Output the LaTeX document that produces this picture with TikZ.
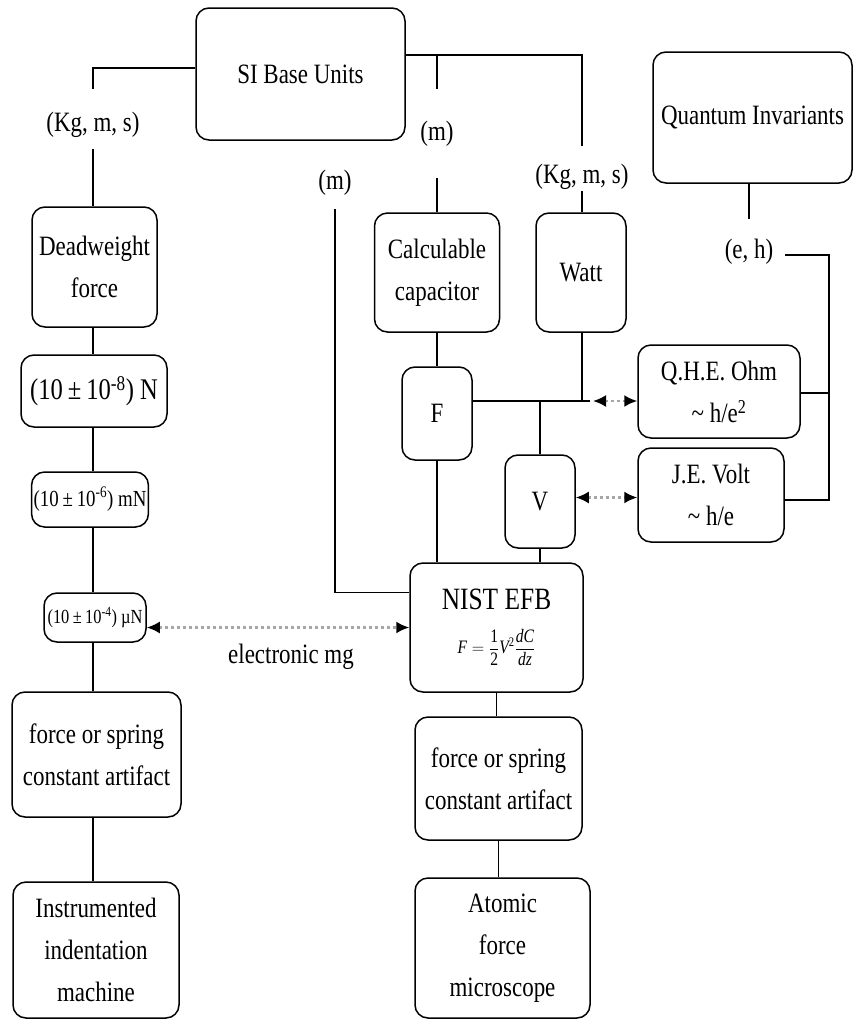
\documentclass[tikz,border=0pt]{standalone}
\usepackage{fontspec}
\setmainfont{Liberation Serif}[FakeStretch=0.82]
\usetikzlibrary{arrows.meta}
\newcommand\fsz[2]{\fontsize{#1}{#2}\selectfont}
\tikzset{
  box/.style={draw, rounded corners=13pt, line width=1.5pt, align=center, inner sep=2pt, font=\fsz{28}{42}},
  lbl/.style={inner sep=0pt, font=\fsz{28}{30}},
  ln/.style={line width=1.5pt},
  darr/.style={line width=2.2pt, gray!70, dash pattern=on 3.5pt off 2.5pt,
    {Latex[length=13pt,width=12pt,black]}-{Latex[length=13pt,width=12pt,black]}},
}
\begin{document}
\begin{tikzpicture}[x=1pt,y=-1pt]
\useasboundingbox[fill=white] (0,0) rectangle (854,1021);
% boxes
\node[box, minimum width=209, minimum height=132] (SI) at (300.5,74) {SI Base Units};
\node[box, minimum width=199, minimum height=131] (QI) at (752.5,117.5) {Quantum Invariants};
\node[box, minimum width=125, minimum height=120] (dw) at (94.5,267) {Deadweight\\force};
\node[box, minimum width=146, minimum height=72, font=\fsz{30}{32}] (N) at (94,391) {(10\,±\,10\textsuperscript{-8}) N};
\node[box, minimum width=116, minimum height=55, font=\fsz{23}{24}] (mN) at (90,499.5) {(10\,±\,10\textsuperscript{-6}) mN};
\node[box, minimum width=102, minimum height=49, font=\fsz{20}{22}, inner sep=1pt] (mu) at (95,617.5) {(10\,±\,10\textsuperscript{-4}) µN};
\node[box, minimum width=169, minimum height=125] (lf) at (96.5,754.5) {force or spring\\constant artifact};
\node[box, minimum width=166, minimum height=136] (inst) at (96,950) {Instrumented\\indentation\\machine};
\node[box, minimum width=125, minimum height=119] (calc) at (437,272.5) {Calculable\\capacitor};
\node[box, minimum width=90, minimum height=119] (watt) at (581,272.5) {Watt};
\node[box, minimum width=70, minimum height=93] (F) at (437,413.5) {F};
\node[box, minimum width=70, minimum height=93] (V) at (540,501.5) {V};
\node[box, minimum width=162, minimum height=93] (QHE) at (719,391.5) {Q.H.E. Ohm\\\textasciitilde{} h/e\textsuperscript{2}};
\node[box, minimum width=146, minimum height=94] (JE) at (711,495) {J.E. Volt\\\textasciitilde{} h/e};
\node[box, minimum width=173, minimum height=129] (NIST) at (496.5,627.5)
  {{\fsz{31}{32}NIST EFB}\\[2pt]{\fsz{19}{21}$\displaystyle\mbox{\itshape F}=\frac{\mbox{1}}{\mbox{2}}\mbox{\itshape V}^{\mbox{\fsz{13}{13}2}}\frac{\mbox{\itshape dC}}{\mbox{\itshape dz}}$}};
\node[box, minimum width=167, minimum height=123] (rf) at (498.5,778.5) {force or spring\\constant artifact};
\node[box, minimum width=175, minimum height=140] (at) at (502.5,948) {Atomic\\force\\microscope};
% labels
\node[lbl] (kms1) at (93,125) {(Kg, m, s)};
\node[lbl] (m1) at (437,134) {(m)};
\node[lbl] (kms2) at (582,177) {(Kg, m, s)};
\node[lbl] (ml) at (335,183) {(m)};
\node[lbl] (eh) at (749,252) {(e, h)};
\node[lbl] (emgl) at (291,657) {electronic mg};
% coordinates
\coordinate (siL) at ([yshift=6pt]SI.west);
\coordinate (siR) at ([yshift=19pt]SI.east);
\coordinate (J) at (590,401);
\coordinate (vj) at ([yshift=4pt]V.east);
\coordinate (ne) at ([yshift=35pt]NIST.west);
\coordinate (emg) at ([yshift=-10pt]mu.east);
\coordinate (qr) at ([yshift=-1.5pt]QHE.east);
\coordinate (rr) at (829,500);
% connectors: left column
\draw[ln] (siL) -| ([yshift=23pt]kms1.north);
\draw[ln] ([yshift=-11pt]kms1.south) -- (kms1 |- dw.north);
\draw[ln] (kms1 |- dw.south) -- (kms1 |- N.north);
\draw[ln] (kms1 |- N.south) -- (kms1 |- mN.north);
\draw[ln] (kms1 |- mN.south) -- (kms1 |- mu.north);
\draw[ln] (kms1 |- mu.south) -- (kms1 |- lf.north);
\draw[ln] (kms1 |- lf.south) -- (kms1 |- inst.north);
% top right
\draw[ln] (siR) -| ([yshift=18pt]kms2.north);
\draw[ln] (m1.north |- siR) -- ([yshift=32pt]m1.north);
\draw[ln] ([yshift=-31pt]m1.south) -- (m1 |- calc.north);
\draw[ln] ([yshift=-1pt]kms2.south) -- (kms2 |- watt.north);
\draw[ln] (calc.south) -- (F.north);
\draw[ln] (J -| F.east) -- (J);
\draw[ln] (kms2 |- watt.south) -- (kms2 |- J);
\draw[ln] (V.north) -- (V.north |- J);
\draw[ln] (F.south) -- (F.south |- NIST.north);
\draw[ln] (V.south) -- (V.south |- NIST.north);
\draw[ln] ([yshift=-13pt]ml.south) |- (ne);
\draw[darr] ([xshift=3pt]J) -- (J -| QHE.west);
\draw[darr] (vj) -- (vj -| JE.west);
\draw[darr] (emg) -- (emg -| NIST.west);
% quantum invariants
\draw[ln] (QI.south -| eh) -- ([yshift=20pt]eh.north);
\draw[ln] ([xshift=12pt,yshift=-3pt]eh.east) -| (rr) -- ([yshift=-5pt]JE.east);
\draw[ln] (qr) -- (qr -| rr);
% bottom
\draw[ln] (NIST.south) -- (NIST.south |- rf.north);
\draw[ln] (rf.south) -- (rf.south |- at.north);
\end{tikzpicture}
\end{document}
